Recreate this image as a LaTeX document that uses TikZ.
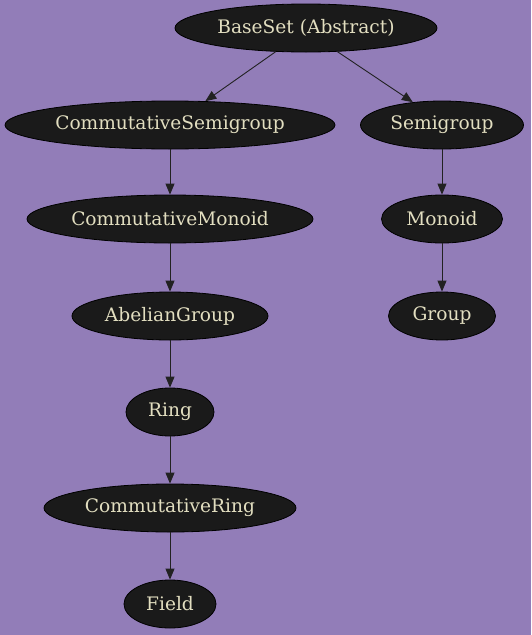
\documentclass[tikz,border=0pt]{standalone}
\usepackage{fontspec}
\setmainfont{DejaVu Serif}
\usetikzlibrary{shapes.geometric,arrows.meta}
\definecolor{bgc}{HTML}{927DB8}
\definecolor{nodefill}{HTML}{1A1A1A}
\definecolor{txt}{HTML}{E2DEC0}
\definecolor{edgec}{HTML}{222222}
\begin{document}
\begin{tikzpicture}[x=1pt,y=-1pt,
  nd/.style={ellipse, draw=black, fill=nodefill, text=txt, inner sep=0pt,
    minimum height=48pt, font=\fontsize{18.6}{20}\selectfont, line width=0.8pt},
  ed/.style={draw=edgec, line width=0.9pt, -{Triangle[length=11pt,width=9pt]}}]
\fill[bgc] (0,0) rectangle (531,635);
\useasboundingbox (0,0) rectangle (531,635);
\node[nd, minimum width=262pt] (base) at (306,28) {BaseSet (Abstract)};
\node[nd, minimum width=330pt] (csg) at (170,125) {CommutativeSemigroup};
\node[nd, minimum width=163pt] (sg) at (442,125) {Semigroup};
\node[nd, minimum width=286pt] (cm) at (170,219) {CommutativeMonoid};
\node[nd, minimum width=121pt] (mon) at (442,219) {Monoid};
\node[nd, minimum width=196pt] (ag) at (170,316) {AbelianGroup};
\node[nd, minimum width=107pt] (grp) at (442,316) {Group};
\node[nd, minimum width=88pt] (ring) at (170,412) {Ring};
\node[nd, minimum width=252pt] (cr) at (170,508) {CommutativeRing};
\node[nd, minimum width=92pt] (field) at (170,604) {Field};
\draw[ed] (base.218) -- (csg.34);
\draw[ed] (base.323) -- (sg.142);
\draw[ed] (csg) -- (cm);
\draw[ed] (sg) -- (mon);
\draw[ed] (cm) -- (ag);
\draw[ed] (mon) -- (grp);
\draw[ed] (ag) -- (ring);
\draw[ed] (ring) -- (cr);
\draw[ed] (cr) -- (field);
\end{tikzpicture}
\end{document}
